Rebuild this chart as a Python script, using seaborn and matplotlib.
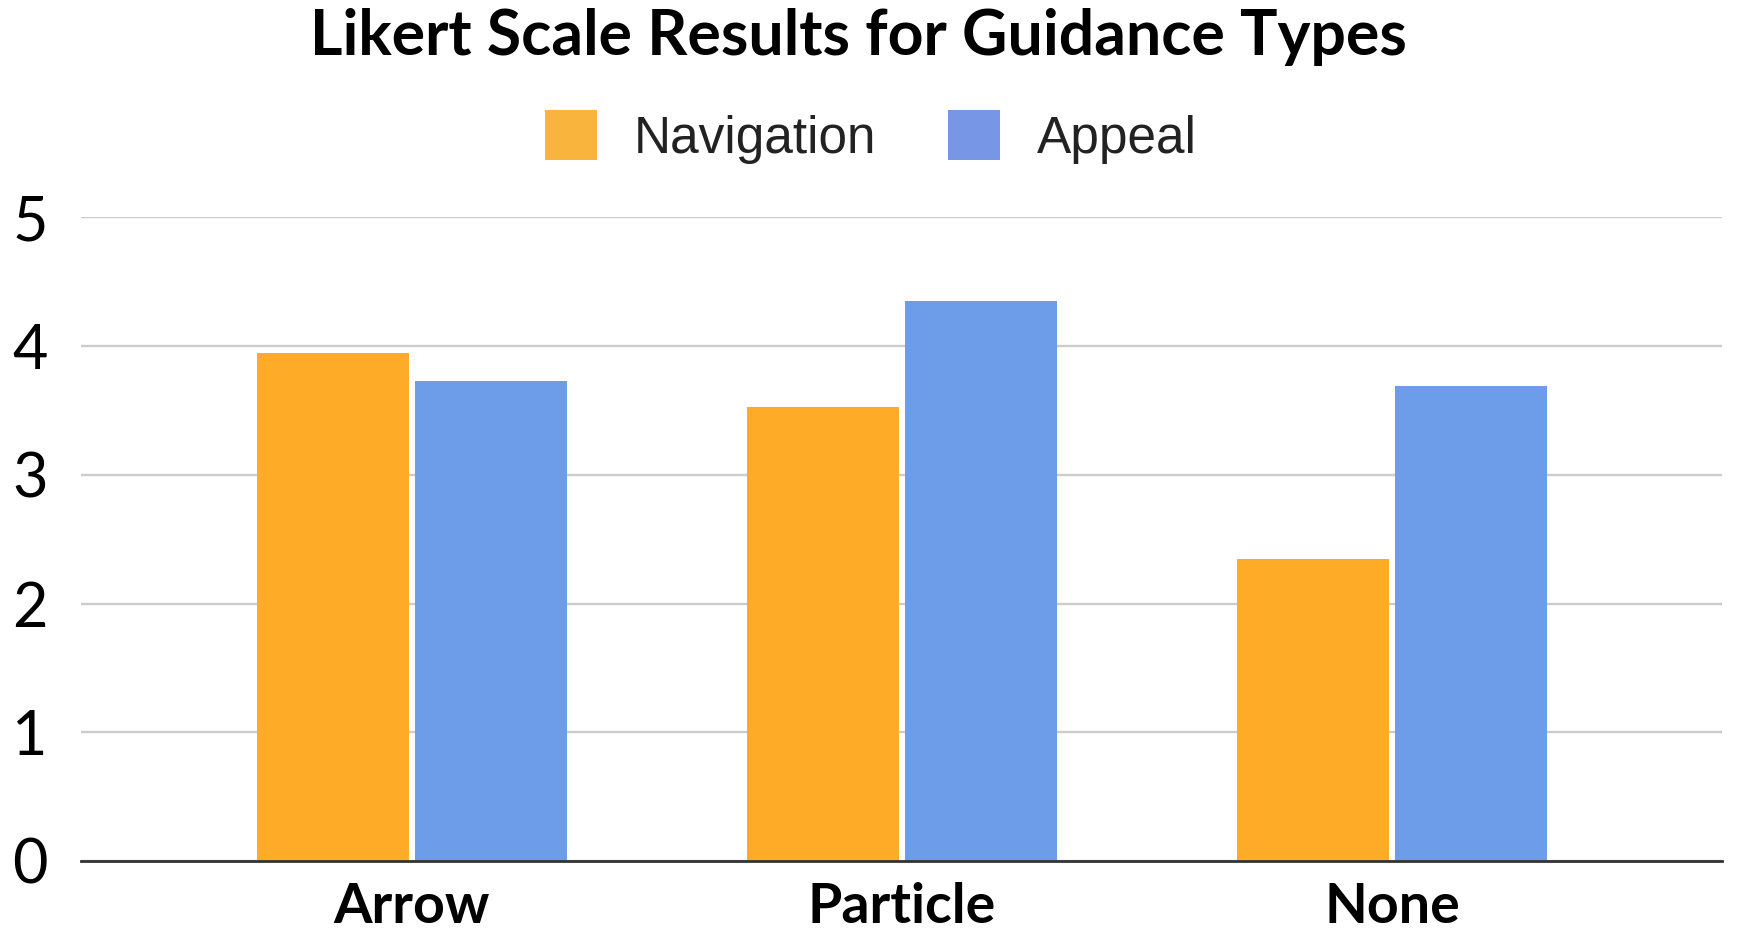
import pandas as pd
import numpy as np
import matplotlib
matplotlib.use("Agg")
import matplotlib.pyplot as plt
import matplotlib.patches as mpatches
import seaborn as sns

# values
guidance = ["Arrow", "Particle", "None"]
navigation = [3.95, 3.53, 2.35]
appeal = [3.73, 4.35, 3.69]
series = ["Navigation", "Appeal"]
y_ticks = [0, 1, 2, 3, 4, 5]

df = pd.DataFrame({
    "Guidance": guidance * 2,
    "Score": navigation + appeal,
    "Measure": ["Navigation"] * 3 + ["Appeal"] * 3,
})

bar_colors = {"Navigation": "#FEAB28", "Appeal": "#6D9DE8"}
legend_colors = {"Navigation": "#F8B43C", "Appeal": "#7896E6"}

sns.set_theme(style="white")
plt.rcParams["font.family"] = ["Lato", "DejaVu Sans"]

fig = plt.figure(figsize=(17.42, 9.32), dpi=100)
ax = fig.add_axes([81 / 1742, 1 - 861 / 932, (1722 - 81) / 1742, (861 - 217.5) / 932])

sns.barplot(data=df, x="Guidance", y="Score", hue="Measure", order=guidance,
            hue_order=series, palette=bar_colors, width=0.645, gap=0.04,
            saturation=1, edgecolor="none", legend=False, ax=ax, zorder=3)

ax.set_xlim(-0.675, 2.673)
ax.set_ylim(0, 5)
ax.set_yticks(y_ticks)
ax.set_yticklabels([str(t) for t in y_ticks], fontsize=44, color="black")
ax.tick_params(axis="y", length=0, pad=24)
ax.tick_params(axis="x", length=0, pad=15, labelsize=40)
for lbl in ax.get_xticklabels():
    lbl.set_fontweight("bold")
    lbl.set_color("black")
ax.set_xlabel("")
ax.set_ylabel("")

ax.grid(axis="y", color="#cccccc", linewidth=1.7, zorder=0)
ax.set_axisbelow(True)
for side in ["top", "right", "left"]:
    ax.spines[side].set_visible(False)
ax.spines["bottom"].set_color("#333333")
ax.spines["bottom"].set_linewidth(2)
ax.spines["bottom"].set_zorder(4)

handles = [mpatches.Patch(facecolor=legend_colors[s], edgecolor="none", label=s) for s in series]
leg = fig.legend(handles=handles, loc="center", bbox_to_anchor=(0.5, 1 - 137 / 932),
                 ncol=2, frameon=False, handlelength=1.0, handleheight=1.12,
                 handletextpad=0.72, columnspacing=1.4,
                 prop={"family": "Liberation Sans", "size": 37})
for t in leg.get_texts():
    t.set_color("#222222")

fig.text(0.493, 1 - 37 / 932, "Likert Scale Results for Guidance Types",
         ha="center", va="center", fontsize=45, fontweight="bold", color="black")

fig.savefig("out.png", dpi=100, facecolor="white")
